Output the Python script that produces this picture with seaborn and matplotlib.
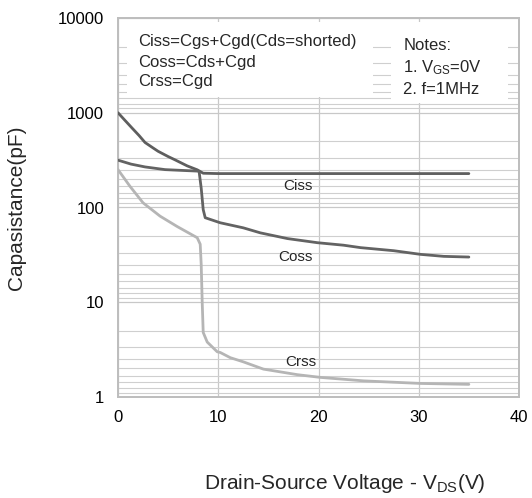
import numpy as np
import pandas as pd
import matplotlib
matplotlib.use("Agg")
import matplotlib.pyplot as plt
import seaborn as sns
from matplotlib.patches import Rectangle

# ---- data ----
vds_ciss = [0, 0.7, 1.4, 2.1, 2.7, 3.5, 4.0, 5.0, 5.7, 6.9, 7.9, 8.5, 10, 15, 20, 25, 30, 35]
ciss = [1000, 830, 690, 575, 485, 425, 392, 345, 318, 275, 250, 230, 228, 228, 228, 228, 228, 228]

vds_coss = [0, 1.3, 2.7, 4.7, 6.5, 8.0, 8.1, 8.3, 8.5, 8.7, 10.2, 12.5, 14.2, 16.9,
            19.9, 22.5, 24.2, 27.5, 30.2, 32.5, 35]
coss = [316, 287, 268, 251, 246, 242, 235, 160, 95, 78, 69, 61, 54, 47,
        42.5, 40, 37.7, 35, 32, 30.5, 30]

vds_crss = [0, 1.2, 2.5, 4.2, 5.9, 7.9, 8.2, 8.3, 8.4, 8.5, 8.9, 9.9, 10.2, 11.2,
            12.5, 14.5, 17.9, 20.2, 24.5, 30.2, 35]
crss = [251, 167, 112, 81, 63, 48, 41, 25, 10, 4.8, 3.8, 3.0, 2.95, 2.6,
        2.35, 1.97, 1.72, 1.61, 1.48, 1.39, 1.36]

x_ticks = [0, 10, 20, 30, 40]
y_ticks = [1, 10, 100, 1000, 10000]
y_ticklabels = ["1", "10", "100", "1000", "10000"]

curve_labels = ["Ciss", "Coss", "Crss"]
label_x = [17.9, 17.7, 18.2]
label_y = [170, 29.8, 2.34]

formula_lines = ["Ciss=Cgs+Cgd(Cds=shorted)", "Coss=Cds+Cgd", "Crss=Cgd"]
notes_lines = ["Notes:", "1. V$_{\\mathrm{GS}}$=0V", "2. f=1MHz"]

# ---- build frame ----
df = pd.concat([
    pd.DataFrame({"Vds": vds_ciss, "C": ciss, "curve": "Ciss"}),
    pd.DataFrame({"Vds": vds_coss, "C": coss, "curve": "Coss"}),
    pd.DataFrame({"Vds": vds_crss, "C": crss, "curve": "Crss"}),
], ignore_index=True)

sns.set_theme(style="white")
plt.rcParams["font.family"] = ["Liberation Sans", "DejaVu Sans"]
plt.rcParams["mathtext.fontset"] = "custom"
plt.rcParams["mathtext.rm"] = "Liberation Sans"
plt.rcParams["mathtext.it"] = "Liberation Sans:italic"

fig = plt.figure(figsize=(5.32, 4.98), dpi=100)
ax = fig.add_axes([118 / 532, 1 - 397 / 498, 401 / 532, 379 / 498])

palette = {"Ciss": "#5e5e5e", "Coss": "#636363", "Crss": "#b5b5b5"}
sns.lineplot(data=df, x="Vds", y="C", hue="curve", palette=palette,
             estimator=None, sort=False, linewidth=2.0, legend=False, ax=ax, zorder=3)

ax.set_yscale("log")
ax.set_xlim(0, 40)
ax.set_ylim(1, 10000)
ax.set_xticks(x_ticks)
ax.set_xticklabels([str(v) for v in x_ticks])
ax.set_yticks(y_ticks)
ax.set_yticklabels(y_ticklabels)

# minor grid lines as drawn in the reference (decade top / k)
minor = [10 ** (n + 1) / k for n in range(4) for k in range(2, 10)]
ax.set_yticks(minor, minor=True)
ax.set_yticklabels([], minor=True)

ax.grid(True, which="major", axis="both", color="#c8c8c8", linewidth=0.9)
ax.grid(True, which="minor", axis="y", color="#cfcfcf", linewidth=0.8)
ax.set_axisbelow(True)

ax.tick_params(axis="both", which="both", length=0, labelsize=12, colors="#000000")
ax.tick_params(axis="y", pad=10)
ax.tick_params(axis="x", pad=9)

for s in ax.spines.values():
    s.set_color("#bdbdbd")
    s.set_linewidth(1.4)

ax.set_xlabel("Drain-Source Voltage - V$_{\\mathrm{DS}}$(V)", fontsize=15)
ax.set_ylabel("Capasistance(pF)", fontsize=15)
ax.xaxis.label.set_va("center")
ax.yaxis.label.set_va("center")
ax.xaxis.set_label_coords(0.565, -0.227)
ax.yaxis.set_label_coords(-0.254, 0.5)

# white boxes behind annotation text
ax.add_patch(Rectangle((0.0224, 0.792), 0.614, 0.197, transform=ax.transAxes,
                       facecolor="white", edgecolor="none", zorder=2))
ax.add_patch(Rectangle((0.681, 0.776), 0.292, 0.213, transform=ax.transAxes,
                       facecolor="white", edgecolor="none", zorder=2))

for txt, yy in zip(formula_lines, [0.925, 0.871, 0.821]):
    ax.text(0.05, yy, txt, transform=ax.transAxes, fontsize=12,
            ha="left", va="baseline", zorder=4)
for txt, (xx, yy) in zip(notes_lines, [(0.713, 0.916), (0.7095, 0.858), (0.7095, 0.800)]):
    ax.text(xx, yy, txt, transform=ax.transAxes, fontsize=12,
            ha="left", va="baseline", zorder=4)

for lab, xx, yy in zip(curve_labels, label_x, label_y):
    ax.text(xx, yy, lab, fontsize=11, ha="center", va="center", zorder=4)

fig.savefig("out.png", dpi=100)
